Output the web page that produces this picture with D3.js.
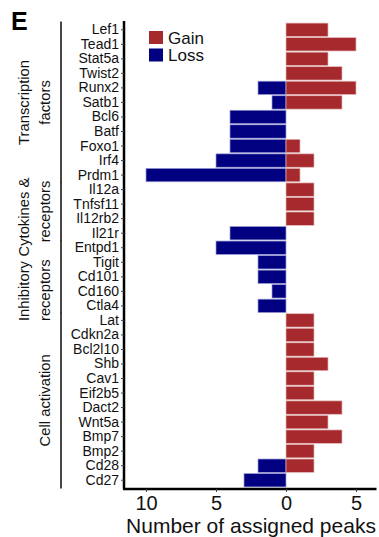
<!DOCTYPE html>
<html>
<head>
<meta charset="utf-8">
<script src="https://cdn.jsdelivr.net/npm/d3@7"></script>
<style>
  body { margin: 0; background: #fff; }
  svg { display: block; font-family: "Liberation Sans", Arial, sans-serif; }
</style>
</head>
<body>
<svg id="chart" width="379" height="537"></svg>
<script>
// genes, top to bottom
var genes = ['Lef1', 'Tead1', 'Stat5a', 'Twist2', 'Runx2', 'Satb1', 'Bcl6', 'Batf', 'Foxo1', 'Irf4', 'Prdm1',
  'Il12a', 'Tnfsf11', 'Il12rb2', 'Il21r',
  'Entpd1', 'Tigit', 'Cd101', 'Cd160', 'Ctla4',
  'Lat', 'Cdkn2a', 'Bcl2l10', 'Shb', 'Cav1', 'Eif2b5', 'Dact2', 'Wnt5a', 'Bmp7', 'Bmp2', 'Cd28', 'Cd27'];
// peaks gained / lost per gene
var gain = [3, 5, 3, 4, 5, 4, 0, 0, 1, 2, 1,
  2, 2, 2, 0,
  0, 0, 0, 0, 0,
  2, 2, 2, 3, 2, 2, 4, 3, 4, 2, 2, 0];
var loss = [0, 0, 0, 0, 2, 1, 4, 4, 4, 5, 10,
  0, 0, 0, 4,
  5, 2, 2, 1, 2,
  0, 0, 0, 0, 0, 0, 0, 0, 0, 0, 2, 3];
var tickValues = [-10, -5, 0, 5];
// gene groups: first gene, last gene, label lines (outer, inner)
var groups = [
  { from: 'Lef1', to: 'Prdm1', lines: ['Transcription', 'factors'] },
  { from: 'Il12a', to: 'Il21r', lines: ['Cytokines &', 'receptors'] },
  { from: 'Entpd1', to: 'Ctla4', lines: ['Inhibitory', 'receptors'] },
  { from: 'Lat', to: 'Cd27', lines: ['', 'Cell activation'] }
];

var red = '#a5292d';
var blue = '#000080';
var font = '"Liberation Sans", Arial, sans-serif';

var svg = d3.select('#chart');

var x = d3.scaleLinear().domain([-11.5, 6.4]).range([125, 375.6]);
var y = d3.scaleBand().domain(genes).range([22.5, 487.5]).paddingInner(0.08).paddingOuter(0.04);

var rows = genes.map((g, i) => ({ gene: g, gain: gain[i], loss: loss[i] }));

// bars
svg.append('g').selectAll('rect')
  .data(rows.filter(d => d.loss > 0))
  .enter().append('rect')
  .attr('x', d => x(-d.loss))
  .attr('y', d => y(d.gene))
  .attr('width', d => x(0) - x(-d.loss))
  .attr('height', y.bandwidth())
  .attr('fill', blue)
  .attr('stroke', '#9a9ad6')
  .attr('stroke-width', 0.7);

svg.append('g').selectAll('rect')
  .data(rows.filter(d => d.gain > 0))
  .enter().append('rect')
  .attr('x', x(0))
  .attr('y', d => y(d.gene))
  .attr('width', d => x(d.gain) - x(0))
  .attr('height', y.bandwidth())
  .attr('fill', red)
  .attr('stroke', '#e3b8b8')
  .attr('stroke-width', 0.7);

// y axis
var yAxis = svg.append('g')
  .attr('transform', 'translate(124,0)')
  .call(d3.axisLeft(y).tickSize(3).tickPadding(2).tickSizeOuter(0));
yAxis.select('.domain').attr('stroke', '#000').attr('stroke-width', 2.5)
  .attr('d', 'M0,21V489');
yAxis.selectAll('.tick line').attr('stroke', '#444');
yAxis.selectAll('text').attr('font-size', 14).attr('fill', '#111')
  .attr('font-family', font);

// x axis
var xAxis = svg.append('g')
  .attr('transform', 'translate(0,489)')
  .call(d3.axisBottom(x).tickValues(tickValues).tickFormat(d => Math.abs(d))
    .tickSize(3).tickPadding(4).tickSizeOuter(0));
xAxis.select('.domain').attr('stroke', '#000').attr('stroke-width', 2.5)
  .attr('d', 'M123,0H376.5');
xAxis.selectAll('.tick line').attr('stroke', '#444');
xAxis.selectAll('text').attr('font-size', 20).attr('fill', '#111')
  .attr('font-family', font);

svg.append('text')
  .attr('x', 251).attr('y', 533)
  .attr('text-anchor', 'middle')
  .attr('font-size', 21).attr('fill', '#111')
  .text('Number of assigned peaks');

// group brackets
var labelSize = 14.8;
groups.forEach(function (g) {
  g.top = y(g.from) - 1.5;
  g.bottom = y(g.to) + y.bandwidth() + 1.5;
  g.cy = (g.top + g.bottom) / 2;
  svg.append('line')
    .attr('x1', 61).attr('x2', 61)
    .attr('y1', g.top).attr('y2', g.bottom)
    .attr('stroke', '#333').attr('stroke-width', 1.8);
});

function vText(xPos, yPos, anchor, t) {
  return svg.append('text')
    .attr('transform', 'translate(' + xPos + ',' + yPos + ') rotate(-90)')
    .attr('text-anchor', anchor)
    .attr('font-size', labelSize).attr('fill', '#111')
    .text(t);
}

// transcription factors and cell activation: centred on the bracket
vText(29, groups[0].cy, 'middle', groups[0].lines[0]);
vText(50, groups[0].cy, 'middle', groups[0].lines[1]);
vText(50, groups[3].cy, 'middle', groups[3].lines[1]);

// inhibitory / cytokines labels run on from the bottom of the inhibitory bracket
var inhibStart = groups[2].bottom + 7;
var inhib = vText(29, inhibStart, 'start', groups[2].lines[0]);
var gap = inhib.node().getComputedTextLength() + labelSize * 0.3;
vText(29, inhibStart - gap, 'start', groups[1].lines[0]);
var rec = vText(50, inhibStart, 'start', groups[2].lines[1]);
var recGap = rec.node().getComputedTextLength() + 17;
vText(50, inhibStart - recGap, 'start', groups[1].lines[1]);

// legend
var legend = [{ name: 'Gain', color: red }, { name: 'Loss', color: blue }];
var lg = svg.append('g').selectAll('g')
  .data(legend)
  .enter().append('g')
  .attr('transform', (d, i) => 'translate(149,' + (31 + i * 17.5) + ')');
lg.append('rect').attr('width', 14).attr('height', 13).attr('fill', d => d.color);
lg.append('text').attr('x', 19).attr('y', 12.5)
  .attr('font-size', 17).attr('fill', '#111')
  .text(d => d.name);

// panel letter
svg.append('text')
  .attr('x', 11).attr('y', 30)
  .attr('font-size', 25).attr('font-weight', 'bold')
  .text('E');
</script>
</body>
</html>
